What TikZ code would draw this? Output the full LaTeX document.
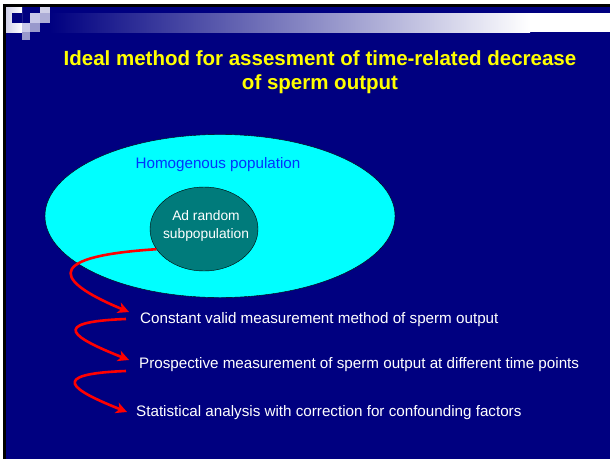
\documentclass[tikz,border=0pt]{standalone}
\usepackage{fontspec}
\setmainfont{Liberation Sans}
\usetikzlibrary{shapes.geometric,arrows.meta,calc}
\definecolor{slidenavy}{RGB}{0,0,128}
\definecolor{lav1}{RGB}{208,208,232}
\definecolor{lav2}{RGB}{200,200,232}
\definecolor{lav3}{RGB}{153,153,204}
\definecolor{bigcyan}{RGB}{0,255,255}
\definecolor{subteal}{RGB}{0,123,123}
\definecolor{popblue}{RGB}{0,51,255}
\definecolor{titleyellow}{RGB}{255,255,0}
\tikzset{
  itemtext/.style={anchor=west,text=white,font=\fontsize{15.2}{18}\selectfont,inner sep=0pt},
  redcurve/.style={draw=red,line width=2.6pt,-{Stealth[length=11pt,width=11pt,inset=3pt]}},
}
\begin{document}
\begin{tikzpicture}[x=1pt,y=-1pt]
\useasboundingbox (0,0) rectangle (610,461);
\fill[white] (0,0) rectangle (610,461);
\fill[black] (3,4) rectangle (610,459);
\fill[slidenavy] (6,7) rectangle (610,459);
% top band
\shade[left color=slidenavy,right color=white] (50,13) rectangle (530,32);
\fill[white] (529.5,13) rectangle (610,32);
% corner squares
\shade[left color=lav1,right color=white] (6,7) rectangle (22,32);
\fill[slidenavy] (12,13) rectangle (22,23);
\fill[lav1] (40,7) rectangle (50,13);
\fill[lav2] (30,13) rectangle (40,23);
\fill[lav3!80!white] (40,13) rectangle (50,23);
\fill[lav2] (22,23) rectangle (30,32);
\fill[lav3] (30,23) rectangle (40,32);
\fill[lav3] (22,32) rectangle (30,40);
% title
\node[text=titleyellow,font=\fontsize{20.5}{24}\selectfont\bfseries,align=center] (title) at (320,72)
  {Ideal method for assesment of time-related decrease\\of sperm output};
% ellipses
\node[ellipse,draw=black,fill=bigcyan,minimum width=350,minimum height=163,inner sep=0pt] (pop) at (220,216) {};
\node[text=popblue,font=\fontsize{15.2}{18}\selectfont] (poplabel) at (218,165) {Homogenous population};
\node[ellipse,draw=black,fill=subteal,minimum width=108,minimum height=84,inner sep=0pt] (sub) at (204,229) {};
\node[text=white,font=\fontsize{13.8}{18}\selectfont,align=center] (sublabel) at (206,226) {Ad random\\subpopulation};
% items
\node[itemtext] (item1) at (140,320) {Constant valid measurement method of sperm output};
\node[itemtext] (item2) at (139,365) {Prospective measurement of sperm output at different time points};
\node[itemtext] (item3) at (136,413) {Statistical analysis with correction for confounding factors};
% arrows
\draw[redcurve] (sub.203) .. controls +(-125,8) and +(-65,-27) .. ([xshift=-11pt,yshift=8pt]item1.west);
\draw[redcurve] ([xshift=-14pt,yshift=1pt]item1.west) .. controls +(-80,3) and +(-55,-22) .. ([xshift=-10pt,yshift=5pt]item2.west);
\draw[redcurve] ([xshift=-13pt,yshift=-6pt]item2.west) .. controls +(-80,3) and +(-55,-22) .. ([xshift=-9pt,yshift=1pt]item3.west);
\end{tikzpicture}
\end{document}
